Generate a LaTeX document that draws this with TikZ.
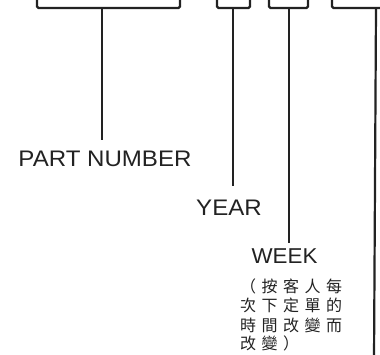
\documentclass[tikz,border=0pt]{standalone}
\usepackage{fontspec}
\setmainfont[FakeStretch=1.07]{Liberation Sans}
\newfontfamily\weekfont[FakeStretch=1.04]{Liberation Sans}
\newfontfamily\cjk{Noto Sans CJK TC}
\newcommand{\cc}[1]{\makebox[21.5pt]{#1}}
\definecolor{ink}{HTML}{222222}
\begin{document}
\begin{tikzpicture}[x=1pt,y=-1pt,
  wire/.style={draw=ink,line width=2.2pt,rounded corners=1.5pt},
  conn/.style={draw=ink,line width=2.2pt},
  lab/.style={text=ink,inner sep=0pt,anchor=base,font=\fontsize{22.5}{24}\selectfont},
  cjkrow/.style={text=ink,inner sep=0pt,anchor=base west,font=\cjk\fontsize{16}{18}\selectfont}]
\useasboundingbox (0,0) rectangle (380,355);
\clip (0,0) rectangle (380,355);
% boxes (bottoms visible only)
\draw[wire] (37,-10) -- (37,8) -- (180,8) -- (180,-10);
\draw[wire] (217,-10) -- (217,8) -- (250,8) -- (250,-10);
\draw[wire] (269,-10) -- (269,8) -- (308,8) -- (308,-10);
\draw[wire] (332,-10) -- (332,8) -- (400,8);
% connector tops
\coordinate (t1) at (102,8);
\coordinate (t2) at (233,8);
\coordinate (t3) at (289,8);
\coordinate (t4) at (376,8);
\coordinate (b4) at (374,360);
% labels
\node[lab] (pn) at (105,167) {PART NUMBER};
\node[lab] (yr) at (229,216) {YEAR};
\node[lab,font=\weekfont\fontsize{21.5}{24}\selectfont] (wk) at (284.5,263.5) {WEEK};
\node[cjkrow] (r1) at (237.25,292.5) {\cc{（}\cc{按}\cc{客}\cc{人}\cc{每}};
\node[cjkrow] (r2) at (237.25,311.5) {\cc{次}\cc{下}\cc{定}\cc{單}\cc{的}};
\node[cjkrow] (r3) at (237.25,331) {\cc{時}\cc{間}\cc{改}\cc{變}\cc{而}};
\node[cjkrow] (r4) at (237.25,349.5) {\cc{改}\cc{變}\cc{）}};
% connectors
\draw[conn,shorten >=11pt] (t1) -- (t1 |- pn.north);
\draw[conn,shorten >=14pt] (t2) -- (t2 |- yr.north);
\draw[conn,shorten >=6pt] (t3) -- (t3 |- wk.north);
\draw[conn] (t4) -- (b4);
\end{tikzpicture}
\end{document}
